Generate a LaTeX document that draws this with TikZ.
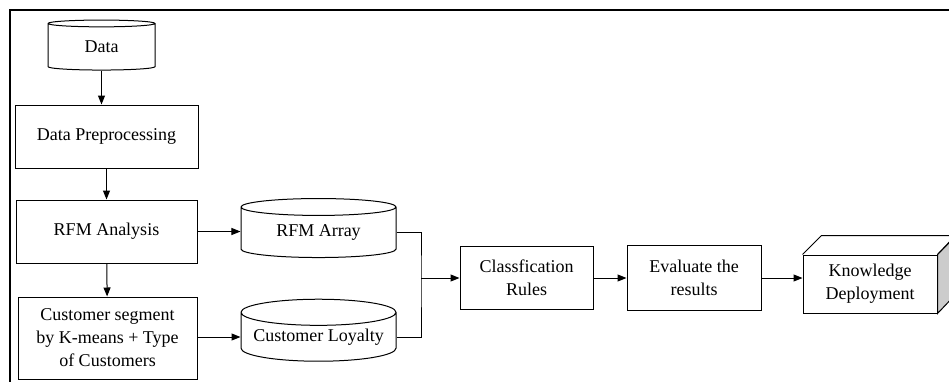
\documentclass[tikz,border=0pt]{standalone}
\usepackage{fontspec}
\setmainfont{Liberation Serif}
\usetikzlibrary{arrows.meta,shapes.geometric}

\begin{document}
\begin{tikzpicture}[
    x=1pt, y=-1pt,
    >={Triangle[length=9pt,width=7pt]},
    line width=1pt,
    every node/.style={font=\fontsize{18}{23}\selectfont, align=center, inner sep=0pt},
    stepbox/.style={rectangle, draw},
    dbase/.style={cylinder, shape border rotate=90, draw, aspect=0.2}
]
  \clip (0,0) rectangle (949,381);

  % frame
  \draw[line width=2.5pt] (10,390) -- (10,10) -- (960,10);

  % nodes
  \node[dbase, minimum width=107pt, minimum height=50pt] (data) at (101.5,47) {Data};
  \node[stepbox, minimum width=183pt, minimum height=63pt] (prep) at (106.5,136.5) {Data Preprocessing};
  \node[stepbox, minimum width=181pt, minimum height=63pt] (rfm) at (106.5,231.5) {RFM Analysis};
  \node[stepbox, minimum width=179pt, minimum height=82pt] (segm) at (107.5,338)
    {Customer segment\\by K-means + Type\\of Customers};
  \node[dbase, minimum width=155pt, minimum height=59pt] (array) at (318.5,232.5) {RFM Array};
  \node[dbase, minimum width=155pt, minimum height=62pt] (loyal) at (318.5,337) {Customer Loyalty};
  \coordinate (join) at (421,278);
  \node[stepbox, minimum width=133pt, minimum height=63pt] (rules) at (526.5,278) {Classfication\\Rules};
  \node[stepbox, minimum width=134pt, minimum height=65pt] (eval) at (694,278) {Evaluate the\\results};
  \node[stepbox, minimum width=134pt, minimum height=58pt] (deploy) at (870,284) {Knowledge\\Deployment};

  % cuboid faces
  \draw[fill=gray!40] (deploy.north east) -- ++(19,-19) -- ++(0,58) -- (deploy.south east) -- cycle;
  \draw (deploy.north west) -- ++(19,-19) -- ++(134,0) -- (deploy.north east);

  % edges
  \draw[->] (data.south) -- (data.south |- prep.north);
  \draw[->] (prep) -- (rfm);
  \draw[->] (rfm) -- (segm);
  \draw[->] (rfm.east) -- (rfm.east -| array.west);
  \draw[->] (segm.east |- loyal) -- (loyal.west);
  \draw (array.east) -| (join) |- (loyal.east);
  \draw[->] (join) -- (rules.west);
  \draw[->] (rules) -- (eval);
  \draw[->] (eval) -- (deploy.west |- eval);
\end{tikzpicture}
\end{document}
